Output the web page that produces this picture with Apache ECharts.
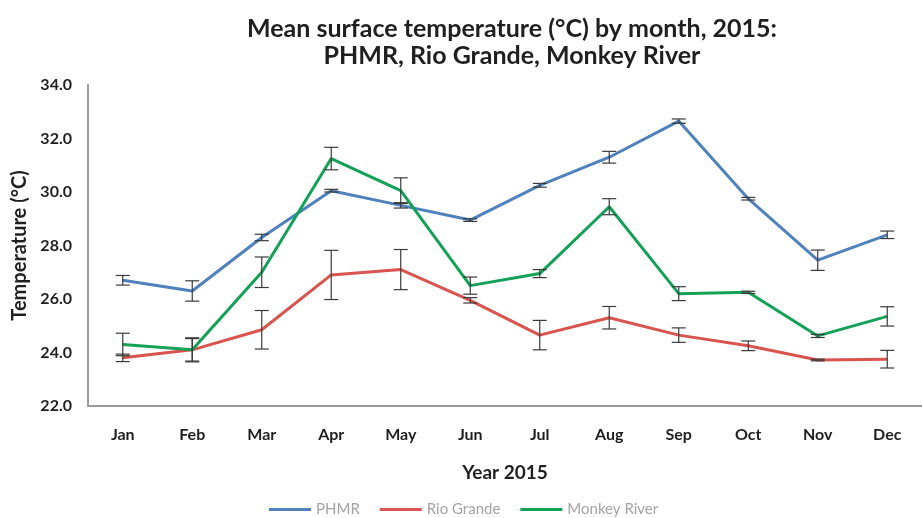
<!DOCTYPE html>
<html>
<head>
<meta charset="utf-8">
<script src="https://cdn.jsdelivr.net/npm/echarts@6/dist/echarts.min.js"></script>
<style>
  html, body { margin: 0; padding: 0; background: #fff; }
  #chart { width: 922px; height: 518px; }
</style>
</head>
<body>
<div id="chart"></div>
<script>
// Monthly mean surface temperature (°C), 2015, with standard error bars
const months = ['Jan', 'Feb', 'Mar', 'Apr', 'May', 'Jun', 'Jul', 'Aug', 'Sep', 'Oct', 'Nov', 'Dec'];

const phmrMean = [26.7, 26.3, 28.3, 30.05, 29.5, 28.95, 30.25, 31.3, 32.65, 29.75, 27.45, 28.4];
const phmrErr  = [0.18, 0.38, 0.12, 0.05, 0.10, 0.05, 0.07, 0.22, 0.08, 0.05, 0.38, 0.14];

const rioMean = [23.8, 24.1, 24.85, 26.9, 27.1, 25.95, 24.65, 25.3, 24.65, 24.25, 23.72, 23.75];
const rioErr  = [0.14, 0.45, 0.72, 0.92, 0.75, 0.10, 0.55, 0.42, 0.27, 0.18, 0.03, 0.33];

const monkeyMean = [24.3, 24.1, 27.0, 31.25, 30.05, 26.5, 26.95, 29.45, 26.2, 26.25, 24.62, 25.35];
const monkeyErr  = [0.42, 0.42, 0.57, 0.42, 0.48, 0.32, 0.15, 0.30, 0.26, 0.04, 0.06, 0.36];

const yTicks = { min: 22, max: 34, step: 2 };

const COLORS = { phmr: '#4F81BD', rio: '#D9534F', monkey: '#12A157' };
const FONT = 'Lato, "Open Sans", sans-serif';

function errorSeries(means, errs, z) {
  return {
    type: 'custom',
    z: z,
    silent: true,
    data: means.map((m, i) => [i, m - errs[i], m + errs[i]]),
    renderItem: function (params, api) {
      const lo = api.coord([api.value(0), api.value(1)]);
      const hi = api.coord([api.value(0), api.value(2)]);
      const half = 7;
      const style = { stroke: '#3a3a3a', lineWidth: 1.2 };
      return {
        type: 'group',
        children: [
          { type: 'line', shape: { x1: hi[0], y1: hi[1], x2: lo[0], y2: lo[1] }, style: style },
          { type: 'line', shape: { x1: hi[0] - half, y1: hi[1], x2: hi[0] + half, y2: hi[1] }, style: style },
          { type: 'line', shape: { x1: lo[0] - half, y1: lo[1], x2: lo[0] + half, y2: lo[1] }, style: style }
        ]
      };
    }
  };
}

function lineSeries(name, data, color) {
  return {
    name: name,
    type: 'line',
    data: data,
    symbol: 'none',
    z: 3,
    lineStyle: { color: color, width: 3 },
    itemStyle: { color: color }
  };
}

const chart = echarts.init(document.getElementById('chart'), null, { renderer: 'canvas' });

chart.setOption({
  animation: false,
  backgroundColor: '#ffffff',
  title: {
    text: 'Mean surface temperature (°C) by month, 2015:\nPHMR, Rio Grande, Monkey River',
    left: 507,
    top: 10,
    textAlign: 'center',
    textStyle: { fontFamily: FONT, fontSize: 25, fontWeight: 'bold', color: '#1f1f1f', lineHeight: 27 }
  },
  legend: {
    top: 497,
    left: 264,
    itemWidth: 42,
    itemHeight: 3,
    itemGap: 20,
    icon: 'rect',
    data: ['PHMR', 'Rio Grande', 'Monkey River'],
    textStyle: { fontFamily: FONT, fontSize: 15, color: '#a3a3a3' }
  },
  grid: { left: 88, right: -11, top: 85, bottom: 112, containLabel: false },
  xAxis: {
    type: 'category',
    data: months,
    boundaryGap: true,
    name: 'Year 2015',
    nameLocation: 'middle',
    nameGap: 57,
    nameTextStyle: { fontFamily: FONT, fontSize: 19, fontWeight: 'bold', color: '#1f1f1f' },
    axisLine: { lineStyle: { color: '#9a9a9a', width: 2 } },
    axisTick: { show: false },
    axisLabel: { fontFamily: FONT, fontSize: 16, fontWeight: 'bold', color: '#1f1f1f', margin: 21 },
    splitLine: { show: false }
  },
  yAxis: {
    type: 'value',
    min: yTicks.min,
    max: yTicks.max,
    interval: yTicks.step,
    name: 'Temperature (°C)',
    nameLocation: 'middle',
    nameGap: 56,
    nameRotate: 90,
    nameTextStyle: { fontFamily: FONT, fontSize: 20, fontWeight: 'bold', color: '#1f1f1f' },
    axisLine: { show: true, lineStyle: { color: '#9a9a9a', width: 2 } },
    axisTick: { show: false },
    axisLabel: {
      fontFamily: FONT, fontSize: 16, fontWeight: 'bold', color: '#1f1f1f', margin: 16,
      formatter: v => v.toFixed(1)
    },
    splitLine: { show: false }
  },
  series: [
    lineSeries('PHMR', phmrMean, COLORS.phmr),
    lineSeries('Rio Grande', rioMean, COLORS.rio),
    lineSeries('Monkey River', monkeyMean, COLORS.monkey),
    errorSeries(phmrMean, phmrErr, 4),
    errorSeries(rioMean, rioErr, 4),
    errorSeries(monkeyMean, monkeyErr, 4)
  ]
});
</script>
</body>
</html>
